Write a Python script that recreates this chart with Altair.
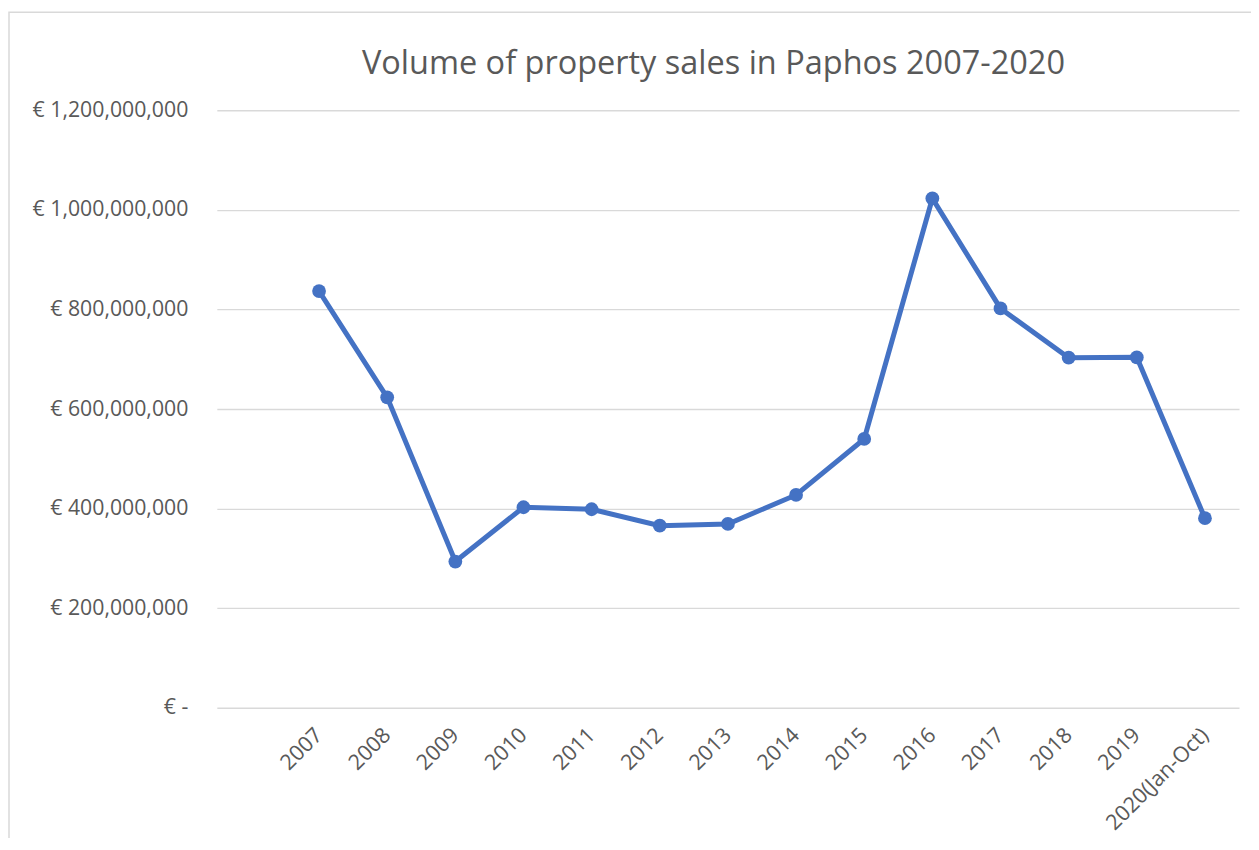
import altair as alt
import pandas as pd

years = ["", "2007", "2008", "2009", "2010", "2011", "2012", "2013", "2014",
         "2015", "2016", "2017", "2018", "2019", "2020(Jan-Oct)"]
data_years = years[1:]
sales = [836800000, 623500000, 293600000, 402700000, 398700000, 365800000,
         369200000, 427400000, 539800000, 1022800000, 802000000, 703000000,
         703700000, 380700000]
y_ticks = [0, 200000000, 400000000, 600000000, 800000000, 1000000000, 1200000000]
title_text = ["Volume of property sales in Paphos 2007-2020"]

df = pd.DataFrame({"year": data_years, "sales": sales})

FONT = "Open Sans"
GREY = "#595959"
BLUE = "#4472C4"

x_enc = alt.X("year:O", scale=alt.Scale(type="point", domain=years, padding=0.5),
              axis=alt.Axis(title=None, labelAngle=315, labelAlign="right",
                            labelBaseline="middle", labelPadding=24, ticks=False,
                            domain=False, grid=False, labelFontSize=21.5,
                            labelColor=GREY, labelFont=FONT))
y_enc = alt.Y("sales:Q", scale=alt.Scale(domain=[0, 1200000000], nice=False),
              axis=alt.Axis(title=None, values=y_ticks, ticks=False, domain=False,
                            grid=True, gridColor="#d9d9d9", gridWidth=1.3,
                            labelPadding=29, labelFontSize=21.3, labelColor=GREY,
                            labelFont=FONT,
                            labelExpr="datum.value == 0 ? '€ -\u00a0\u00a0\u00a0' : '€ ' + format(datum.value, ',')"))

border = alt.Chart(pd.DataFrame({"a": [0]})).mark_rect(
    fill=None, stroke="#d9d9d9", strokeWidth=1.5
).encode(x=alt.value(-208), x2=alt.value(1200), y=alt.value(-98), y2=alt.value(900))

title = alt.Chart(pd.DataFrame({"t": title_text})).mark_text(
    font=FONT, fontSize=32.5, color=GREY, align="center", baseline="middle"
).encode(text="t:N", x=alt.value(497), y=alt.value(-46))

line = alt.Chart(df).mark_line(color=BLUE, strokeWidth=5).encode(x=x_enc, y=y_enc)
points = alt.Chart(df).mark_point(filled=True, color=BLUE, size=190, opacity=1).encode(x=x_enc, y=y_enc)

chart = alt.layer(border, title, line, points).properties(
    width=1023, height=598,
    autosize=alt.AutoSizeParams(type="none"),
    padding={"left": 209, "top": 102, "right": 12, "bottom": 130},
).configure_view(stroke=None)

chart.save("out.html", embed_options={"renderer": "svg", "actions": False})
